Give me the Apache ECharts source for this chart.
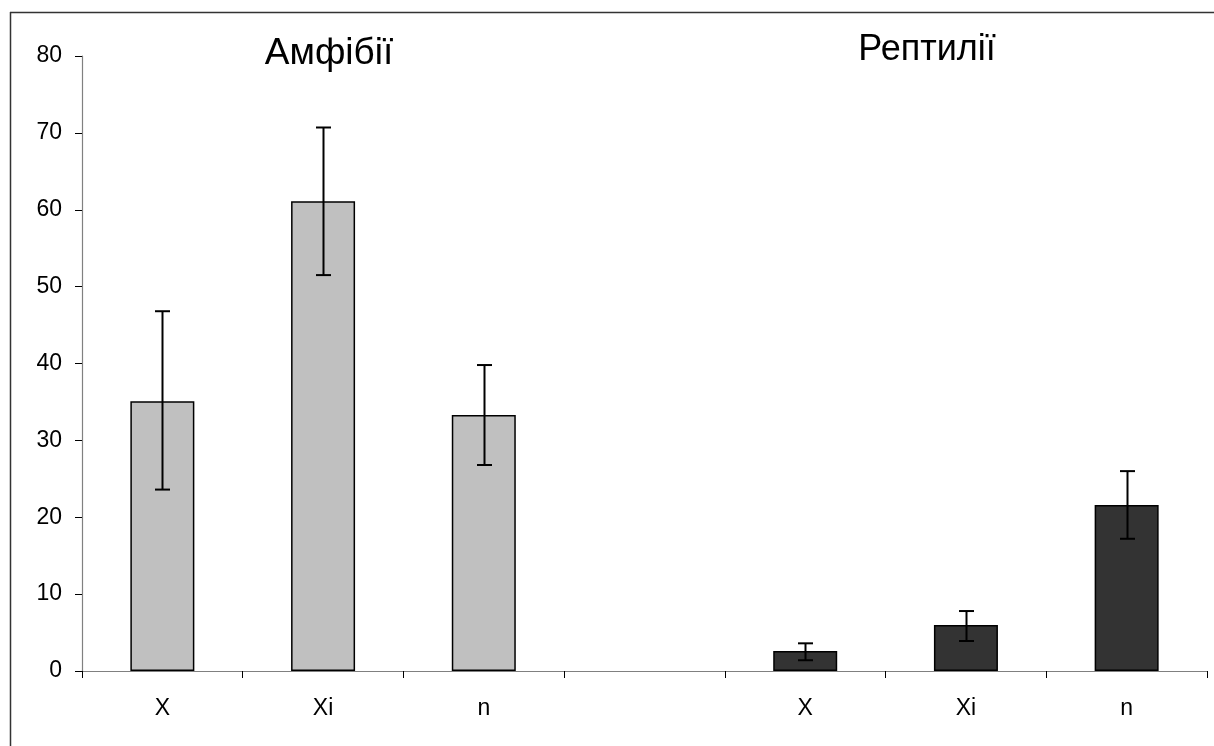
<!DOCTYPE html>
<html>
<head>
<meta charset="utf-8">
<script src="https://cdn.jsdelivr.net/npm/echarts@6/dist/echarts.min.js"></script>
<style>
html,body{margin:0;padding:0;background:#fff;}
#chart{width:1214px;height:746px;}
</style>
</head>
<body>
<div id="chart"></div>
<script>
var categories = ['X', 'Xi', 'n', '', 'X', 'Xi', 'n'];
var amphibians = [35.1, 61.1, 33.3, '-', '-', '-', '-'];
var reptiles = ['-', '-', '-', '-', 2.6, 6.0, 21.6];
var errLow = [23.6, 51.5, 26.8, null, 1.4, 3.9, 17.2];
var errHigh = [46.8, 70.7, 39.8, null, 3.6, 7.8, 26.0];
var yTicks = { min: 0, max: 80, interval: 10 };
var groupTitles = ['Амфібії', 'Рептилії'];

var errData = [];
for (var i = 0; i < categories.length; i++) {
  if (errLow[i] != null) errData.push([i, errLow[i], errHigh[i]]);
}

var chart = echarts.init(document.getElementById('chart'));
var font = 'Liberation Sans, Arial, sans-serif';
chart.setOption({
  animation: false,
  backgroundColor: '#fff',
  title: [
    { text: groupTitles[0], left: 324, top: 30, textAlign: 'center',
      textStyle: { fontFamily: font, fontSize: 37, fontWeight: 'normal', color: '#000' } },
    { text: groupTitles[1], left: 922, top: 27, textAlign: 'center',
      textStyle: { fontFamily: font, fontSize: 36, fontWeight: 'normal', color: '#000' } }
  ],
  graphic: [
    { type: 'line', shape: { x1: 10, y1: 12.5, x2: 1214, y2: 12.5 }, style: { stroke: '#333', lineWidth: 1.5 } },
    { type: 'line', shape: { x1: 10.5, y1: 12, x2: 10.5, y2: 746 }, style: { stroke: '#333', lineWidth: 1.5 } }
  ],
  grid: { left: 82, right: 7, top: 56, bottom: 75, containLabel: false },
  xAxis: {
    type: 'category',
    data: categories,
    axisLine: { lineStyle: { color: '#808080', width: 1.2 } },
    axisTick: { show: true, inside: false, length: 7, lineStyle: { color: '#000' }, alignWithLabel: false },
    axisLabel: { fontFamily: font, fontSize: 23, color: '#000', margin: 26, interval: 0 },
    splitLine: { show: false }
  },
  yAxis: {
    type: 'value',
    min: yTicks.min, max: yTicks.max, interval: yTicks.interval,
    axisLine: { show: true, lineStyle: { color: '#808080', width: 1.2 } },
    axisTick: { show: true, length: 7, lineStyle: { color: '#000' } },
    axisLabel: { fontFamily: font, fontSize: 23, color: '#000', margin: 20 },
    splitLine: { show: false }
  },
  series: [
    { type: 'bar', data: amphibians, barWidth: 64, barGap: '-100%',
      itemStyle: { color: '#C0C0C0', borderColor: '#000', borderWidth: 1.5 } },
    { type: 'bar', data: reptiles, barWidth: 64, barGap: '-100%',
      itemStyle: { color: '#333333', borderColor: '#000', borderWidth: 1.5 } },
    { type: 'custom', data: errData, z: 10,
      renderItem: function (params, api) {
        var x = api.value(0);
        var lo = api.coord([x, api.value(1)]);
        var hi = api.coord([x, api.value(2)]);
        var cx = Math.round(lo[0]) + 0.5;
        var hw = 7.5;
        var st = { stroke: '#000', lineWidth: 2 };
        return { type: 'group', children: [
          { type: 'line', shape: { x1: cx, y1: lo[1], x2: cx, y2: hi[1] }, style: st },
          { type: 'line', shape: { x1: cx - hw, y1: lo[1], x2: cx + hw, y2: lo[1] }, style: st },
          { type: 'line', shape: { x1: cx - hw, y1: hi[1], x2: cx + hw, y2: hi[1] }, style: st }
        ]};
      }
    }
  ]
});
</script>
</body>
</html>
